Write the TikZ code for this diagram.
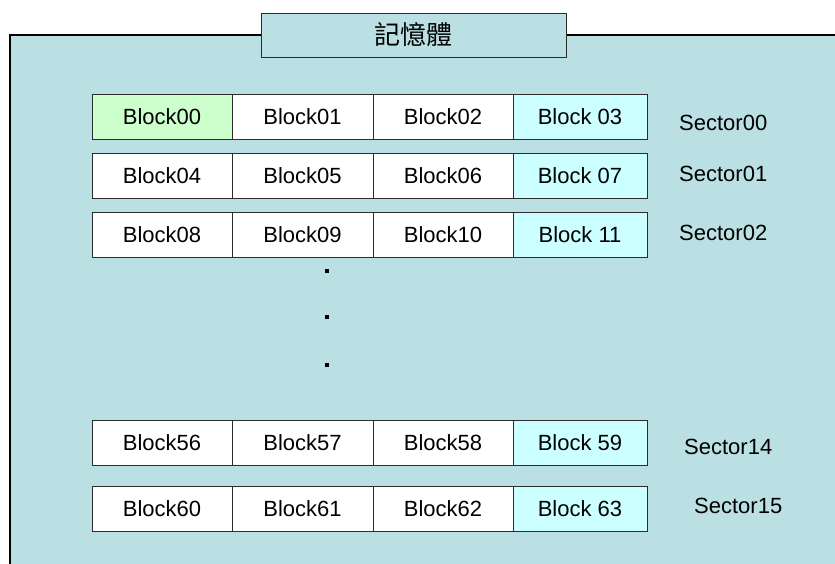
\documentclass[tikz,border=0pt]{standalone}
\usepackage{fontspec}
\setmainfont{Liberation Sans}
\newfontfamily\cjk{Noto Sans CJK TC}
\definecolor{panelfill}{HTML}{BBE0E3}
\definecolor{greenfill}{HTML}{CCFFCC}
\definecolor{cyanfill}{HTML}{CCFFFF}
\definecolor{edge}{HTML}{2B2B2B}
\begin{document}
\begin{tikzpicture}[x=1pt,y=-1pt,
  blockbox/.style={draw=edge,line width=0.9pt,fill=white,inner sep=0pt,
    minimum height=45pt,font=\fontsize{22}{26}\selectfont},
  sectorlabel/.style={anchor=west,inner sep=0pt,font=\fontsize{22}{26}\selectfont},
  dotmark/.style={fill=black,draw=none,minimum size=4pt,inner sep=0pt}]
\useasboundingbox (0,0) rectangle (835,563);
\clip (0,0) rectangle (835,563);
% memory panel, open to the right and bottom
\fill[panelfill] (10,35) rectangle (850,580);
\draw[black,line width=1.3pt] (10,580) -- (10,35) -- (850,35);
% title tab
\node[draw=edge,line width=1pt,fill=panelfill,minimum width=305pt,minimum height=44pt,
  inner sep=0pt,font=\cjk\fontsize{26}{30}\selectfont] (title) at (413.5,35) {記憶體};
% rows of blocks
\foreach \r/\yc/\a/\b/\c/\d in {0/116.5/00/01/02/03, 1/175.5/04/05/06/07, 2/235/08/09/10/11,
    3/442.5/56/57/58/59, 4/508.5/60/61/62/63}{
  \node[blockbox,minimum width=140pt] (b\a) at (162,\yc) {Block\a};
  \node[blockbox,minimum width=141pt] (b\b) at (302.5,\yc) {Block\b};
  \node[blockbox,minimum width=140pt] (b\c) at (443,\yc) {Block\c};
  \node[blockbox,minimum width=134pt,fill=cyanfill] (b\d) at (580,\yc) {Block \d};
}
\node[blockbox,minimum width=140pt,fill=greenfill] at (b00) {Block00};
% sector labels
\node[sectorlabel] (s00) at (679,123) {Sector00};
\node[sectorlabel] (s01) at (679,174) {Sector01};
\node[sectorlabel] (s02) at (679,233) {Sector02};
\node[sectorlabel] (s14) at (684,447) {Sector14};
\node[sectorlabel] (s15) at (694,506) {Sector15};
% ellipsis between sector 02 and sector 14
\node[dotmark] (d1) at (327,271) {};
\node[dotmark] (d2) at (327,317) {};
\node[dotmark] (d3) at (327,365) {};
\end{tikzpicture}
\end{document}
